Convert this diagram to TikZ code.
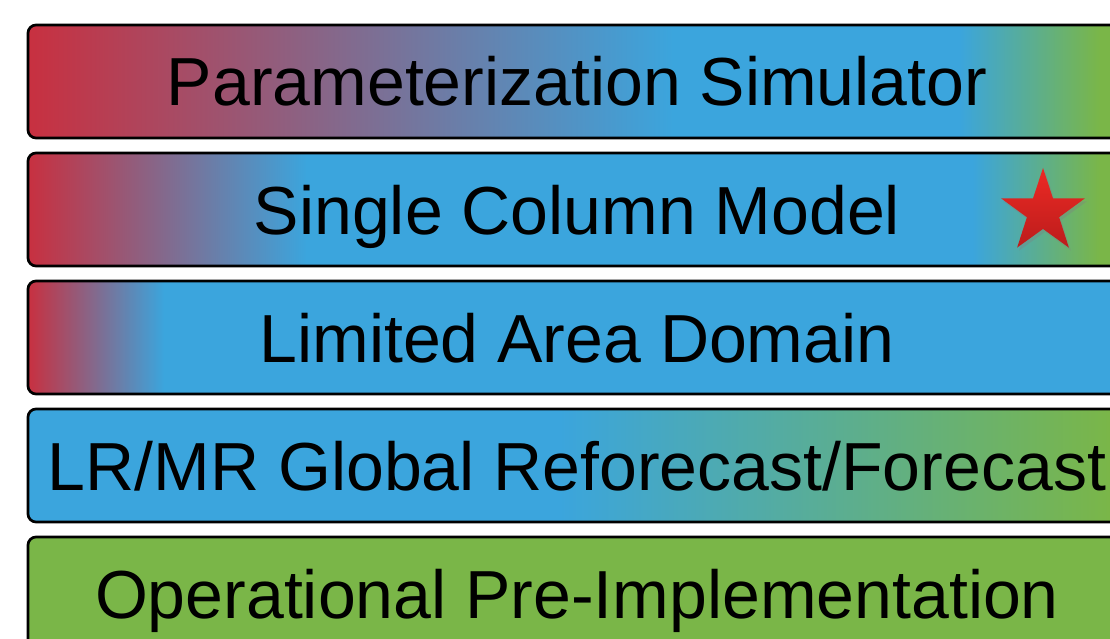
\documentclass[tikz,border=0pt]{standalone}
\usepackage{fontspec}
\setmainfont{Liberation Sans}
\usetikzlibrary{shapes.geometric,shadows}

\definecolor{barred}{RGB}{200,48,64}
\definecolor{barblue}{RGB}{59,165,221}
\definecolor{bargreen}{RGB}{122,182,72}
\definecolor{starlight}{RGB}{236,42,36}
\definecolor{stardark}{RGB}{188,28,28}

\pgfdeclarehorizontalshading{paramshade}{100bp}{color(0bp)=(barred); color(25bp)=(barred); color(54.4bp)=(barblue); color(67.4bp)=(barblue); color(73.8bp)=(bargreen); color(100bp)=(bargreen)}
\pgfdeclarehorizontalshading{columnshade}{100bp}{color(0bp)=(barred); color(25bp)=(barred); color(37.7bp)=(barblue); color(68bp)=(barblue); color(73.8bp)=(bargreen); color(100bp)=(bargreen)}
\pgfdeclarehorizontalshading{areashade}{100bp}{color(0bp)=(barred); color(25bp)=(barred); color(31.2bp)=(barblue); color(100bp)=(barblue)}
\pgfdeclarehorizontalshading{globalshade}{100bp}{color(0bp)=(barblue); color(49.2bp)=(barblue); color(74.3bp)=(bargreen); color(100bp)=(bargreen)}

\tikzset{
    bar/.style={draw=black, line width=2.7pt, rounded corners=8pt,
        minimum width=1098pt, minimum height=113pt, inner sep=0pt,
        font=\fontsize{68}{76}\selectfont, text height=49pt, text depth=0pt},
    badge/.style={star, star points=5, star point ratio=2.6, minimum size=88pt,
        inner sep=0pt, top color=starlight, bottom color=stardark, draw=none,
        drop shadow={opacity=0.35, shadow xshift=2pt, shadow yshift=-3pt}}
}

\begin{document}
\begin{tikzpicture}[x=1pt, y=-1pt]
    \useasboundingbox (0,0) rectangle (1110,639);
    \clip (0,0) rectangle (1110,639);
    \node [bar, shading=paramshade] at (577,81.5) (param) {Parameterization Simulator};
    \node [bar, shading=columnshade] at (577,209.5) (column) {Single Column Model};
    \node [bar, shading=areashade] at (577,337.5) (area) {Limited Area Domain};
    \node [bar, shading=globalshade] at (577,465.5) (global) {LR/MR Global Reforecast/Forecast};
    \node [bar, fill=bargreen] at (577,593.5) (oper) {Operational Pre-Implementation};
    \node [badge] at (1043,212) (here) {};
\end{tikzpicture}
\end{document}
